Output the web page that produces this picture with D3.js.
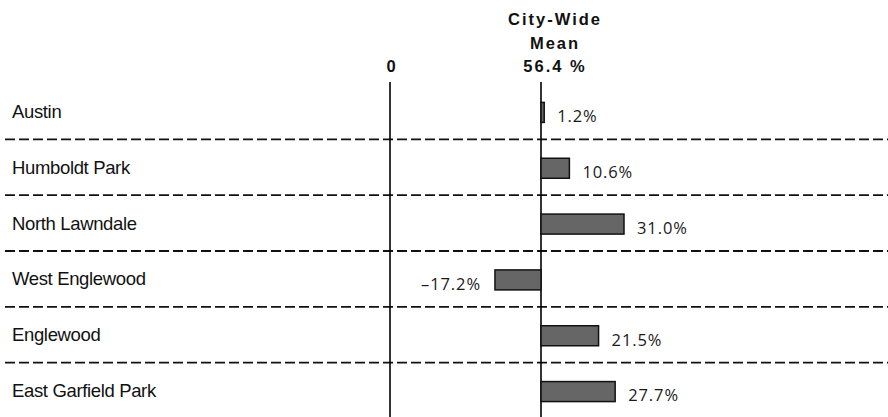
<!DOCTYPE html>
<html>
<head>
<meta charset="utf-8">
<script src="https://cdn.jsdelivr.net/npm/d3@7"></script>
<style>
  html, body { margin: 0; padding: 0; background: #fff; }
  svg { display: block; }
</style>
</head>
<body>
<svg id="chart" width="888" height="417"></svg>
<script>
// Community areas, top to bottom
const areas = ["Austin", "Humboldt Park", "North Lawndale", "West Englewood", "Englewood", "East Garfield Park"];
// Difference from the city-wide mean, in percentage points
const diffs = [1.2, 10.6, 31.0, -17.2, 21.5, 27.7];
// City-wide mean, percent
const cityMean = 56.4;
// Header lines above the mean line
const meanHeader = ["City-Wide", "Mean", "56.4 %"];
const zeroLabel = "0";

const W = 888, H = 417;
const svg = d3.select("#chart");

const x = d3.scaleLinear().domain([0, cityMean]).range([390, 541]);
const y = d3.scaleBand().domain(areas).range([83.5, 418.5]).paddingInner(0).paddingOuter(0);

const fmt = v => (v < 0 ? "\u2013" : "") + d3.format(".1f")(Math.abs(v)) + "%";
const rows = areas.map((a, i) => ({ area: a, diff: diffs[i] }));

// dashed row separators
svg.append("g")
  .selectAll("line")
  .data(areas.slice(0, -1))
  .join("line")
  .attr("x1", 5).attr("x2", W)
  .attr("y1", d => y(d) + y.bandwidth())
  .attr("y2", d => y(d) + y.bandwidth())
  .attr("stroke", "#111")
  .attr("stroke-width", 1.8)
  .attr("stroke-dasharray", "10,4");

// zero and mean reference lines
const topY = 82;
[0, cityMean].forEach(v => {
  svg.append("line")
    .attr("x1", x(v)).attr("x2", x(v))
    .attr("y1", topY).attr("y2", H)
    .attr("stroke", "#000").attr("stroke-width", 1.6);
});

// bars measured from the mean
const barH = 20;
svg.append("g")
  .selectAll("rect")
  .data(rows)
  .join("rect")
  .attr("x", d => Math.min(x(cityMean), x(cityMean + d.diff)))
  .attr("width", d => Math.abs(x(cityMean + d.diff) - x(cityMean)))
  .attr("y", d => y(d.area) + y.bandwidth() / 2 - barH / 2 + 1)
  .attr("height", barH)
  .attr("fill", "#666")
  .attr("stroke", "#111")
  .attr("stroke-width", 1.5);

// value labels
svg.append("g")
  .selectAll("text")
  .data(rows)
  .join("text")
  .attr("x", d => d.diff >= 0 ? x(cityMean + d.diff) + 13 : x(cityMean + d.diff) - 14)
  .attr("y", d => y(d.area) + y.bandwidth() / 2 + 5)
  .attr("dy", "0.35em")
  .attr("text-anchor", d => d.diff >= 0 ? "start" : "end")
  .attr("font-family", "'Open Sans', 'DejaVu Sans', sans-serif")
  .attr("font-weight", 400)
  .attr("font-size", 16.5)
  .attr("letter-spacing", 0.9)
  .attr("fill", "#1a1a1a")
  .text(d => fmt(d.diff));

// area names
svg.append("g")
  .selectAll("text")
  .data(rows)
  .join("text")
  .attr("x", 12)
  .attr("y", d => y(d.area) + y.bandwidth() / 2)
  .attr("dy", "0.35em")
  .attr("font-family", "'Liberation Sans', Arial, sans-serif")
  .attr("font-size", 18.5)
  .attr("letter-spacing", -0.35)
  .attr("fill", "#111")
  .text(d => d.area);

// header labels
const head = svg.append("g")
  .attr("font-family", "'Liberation Sans', Arial, sans-serif")
  .attr("font-weight", "bold")
  .attr("font-size", 16.5)
  .attr("fill", "#111");

head.selectAll("text.mean")
  .data(meanHeader)
  .join("text")
  .attr("class", "mean")
  .attr("x", x(cityMean) + 14)
  .attr("y", (d, i) => 25 + i * 23.5)
  .attr("text-anchor", "middle")
  .attr("letter-spacing", 2)
  .text(d => d);

head.append("text")
  .attr("x", x(0) + 1)
  .attr("y", 72)
  .attr("text-anchor", "middle")
  .text(zeroLabel);
</script>
</body>
</html>
